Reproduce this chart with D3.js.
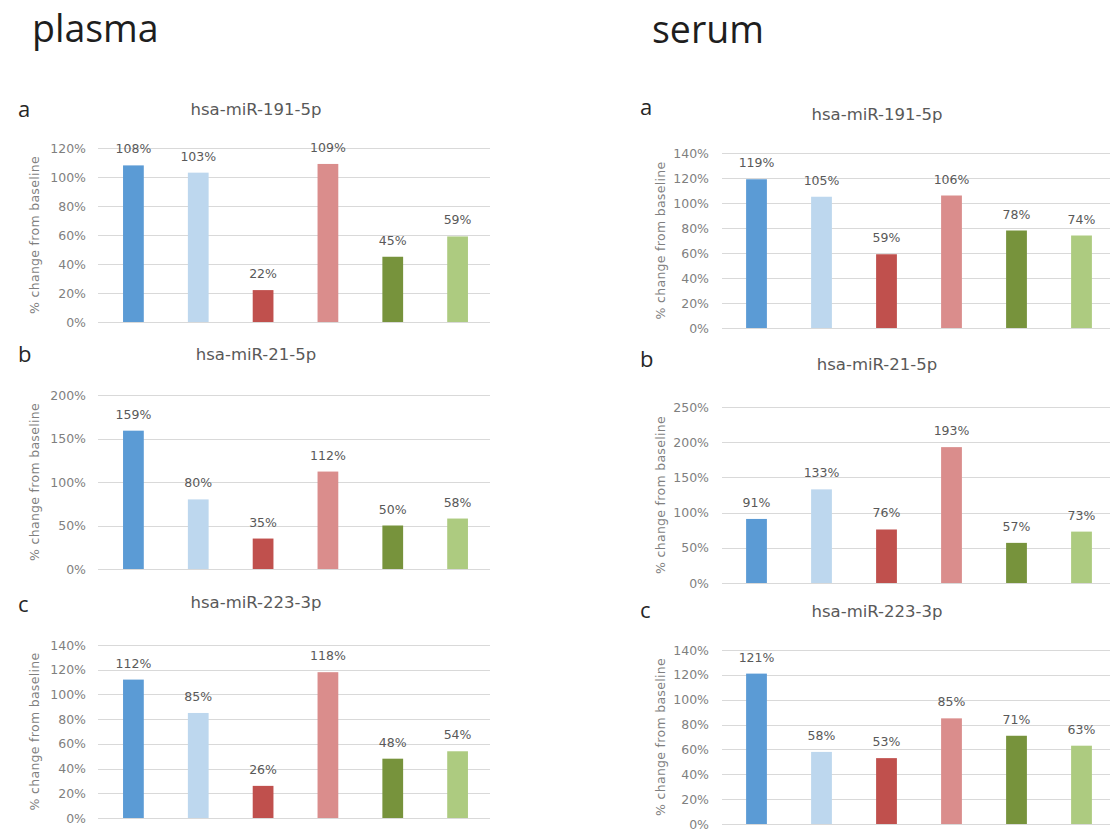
<!DOCTYPE html>
<html>
<head>
<meta charset="utf-8">
<script src="https://cdn.jsdelivr.net/npm/d3@7/dist/d3.min.js"></script>
<style>
  html, body { margin: 0; padding: 0; background: #fff; }
  svg { display: block; }
</style>
</head>
<body>
<script>
// ---- data ----
const sampleTypes = ["plasma", "serum"];
const mirnas = ["hsa-miR-191-5p", "hsa-miR-21-5p", "hsa-miR-223-3p"];
const panelLetters = ["a", "b", "c"];

// % change from baseline, six groups per miRNA
const plasmaValues = [
  [108, 103, 22, 109, 45, 59],
  [159, 80, 35, 112, 50, 58],
  [112, 85, 26, 118, 48, 54]
];
const serumValues = [
  [119, 105, 59, 106, 78, 74],
  [91, 133, 76, 193, 57, 73],
  [121, 58, 53, 85, 71, 63]
];

// y-axis tick values for each panel
const plasmaTicks = [
  [0, 20, 40, 60, 80, 100, 120],
  [0, 50, 100, 150, 200],
  [0, 20, 40, 60, 80, 100, 120, 140]
];
const serumTicks = [
  [0, 20, 40, 60, 80, 100, 120, 140],
  [0, 50, 100, 150, 200, 250],
  [0, 20, 40, 60, 80, 100, 120, 140]
];

// ---- styles ----
const barColors = ["#5B9BD5", "#BDD7EE", "#C0504D", "#DA8D8C", "#77933C", "#ADCB80"];
const yAxisTitle = "% change from baseline";

// ---- layout ----
const W = 1110, H = 830;
const layout = {
  plasma: {
    x0: 101, x1: 490, gridX0: 98, tickX: 86, axisTitleX: 39, headerX: 32, headerY: 42,
    letterX: 18, titleCx: 256,
    rows: [
      { top: 148, bottom: 322, titleY: 115, letterY: 117 },
      { top: 395, bottom: 569, titleY: 360, letterY: 362 },
      { top: 645, bottom: 818, titleY: 608, letterY: 612 }
    ]
  },
  serum: {
    x0: 724, x1: 1114, gridX0: 722, tickX: 709, axisTitleX: 665, headerX: 652, headerY: 43,
    letterX: 640, titleCx: 877,
    rows: [
      { top: 153, bottom: 328, titleY: 120, letterY: 115 },
      { top: 407, bottom: 583, titleY: 370, letterY: 367 },
      { top: 650, bottom: 824, titleY: 617, letterY: 618 }
    ]
  }
};

const valuesByType = { plasma: plasmaValues, serum: serumValues };
const ticksByType = { plasma: plasmaTicks, serum: serumTicks };

const svg = d3.select("body").append("svg")
  .attr("width", W).attr("height", H)
  .attr("viewBox", `0 0 ${W} ${H}`);

svg.append("rect").attr("width", W).attr("height", H).attr("fill", "#fff");

const smallFont = "'DejaVu Sans', sans-serif";
const fmt = d => d + "%";

sampleTypes.forEach(type => {
  const L = layout[type];

  // column header
  svg.append("text")
    .attr("x", L.headerX).attr("y", L.headerY)
    .attr("font-family", "'Open Sans', sans-serif")
    .attr("font-size", 37.5)
    .attr("fill", "#1e1e1e")
    .text(type);

  mirnas.forEach((name, i) => {
    const R = L.rows[i];
    const values = valuesByType[type][i];
    const ticks = ticksByType[type][i];

    const x = d3.scaleBand()
      .domain(d3.range(values.length))
      .range([L.x0, L.x1])
      .paddingInner(0.68)
      .paddingOuter(0.34);

    const y = d3.scaleLinear()
      .domain([0, d3.max(ticks)])
      .range([R.bottom, R.top]);

    const g = svg.append("g");

    // panel letter
    g.append("text")
      .attr("x", L.letterX).attr("y", R.letterY)
      .attr("font-family", "'Open Sans', sans-serif")
      .attr("font-size", 22)
      .attr("fill", "#262626")
      .text(panelLetters[i]);

    // chart title
    g.append("text")
      .attr("x", L.titleCx).attr("y", R.titleY)
      .attr("text-anchor", "middle")
      .attr("font-family", smallFont)
      .attr("font-size", 16.5)
      .attr("fill", "#595959")
      .text(name);

    // y axis: gridlines + tick labels
    const axis = d3.axisLeft(y)
      .tickValues(ticks)
      .tickFormat(fmt)
      .tickSize(-(L.x1 - L.gridX0))
      .tickPadding(L.gridX0 - L.tickX);

    const ag = g.append("g")
      .attr("transform", `translate(${L.gridX0},0)`)
      .call(axis);
    ag.select(".domain").remove();
    ag.selectAll(".tick line")
      .attr("stroke", "#d9d9d9")
      .attr("stroke-width", 1)
      .attr("shape-rendering", "crispEdges");
    ag.selectAll(".tick text")
      .attr("font-family", smallFont)
      .attr("font-size", 12.5)
      .attr("fill", "#7f7f7f");

    // y-axis title
    g.append("text")
      .attr("transform", `translate(${L.axisTitleX},${(R.top + R.bottom) / 2}) rotate(-90)`)
      .attr("text-anchor", "middle")
      .attr("font-family", smallFont)
      .attr("font-size", 12.5)
      .attr("letter-spacing", 0.3)
      .attr("fill", "#7f7f7f")
      .text(yAxisTitle);

    // bars
    g.selectAll("rect.bar")
      .data(values)
      .join("rect")
      .attr("class", "bar")
      .attr("x", (d, j) => x(j))
      .attr("width", x.bandwidth())
      .attr("y", d => y(d))
      .attr("height", d => y(0) - y(d))
      .attr("fill", (d, j) => barColors[j]);

    // value labels
    g.selectAll("text.val")
      .data(values)
      .join("text")
      .attr("class", "val")
      .attr("x", (d, j) => x(j) + x.bandwidth() / 2)
      .attr("y", d => y(d) - 12)
      .attr("text-anchor", "middle")
      .attr("font-family", smallFont)
      .attr("font-size", 12.5)
      .attr("fill", "#595959")
      .text(fmt);
  });
});
</script>
</body>
</html>
